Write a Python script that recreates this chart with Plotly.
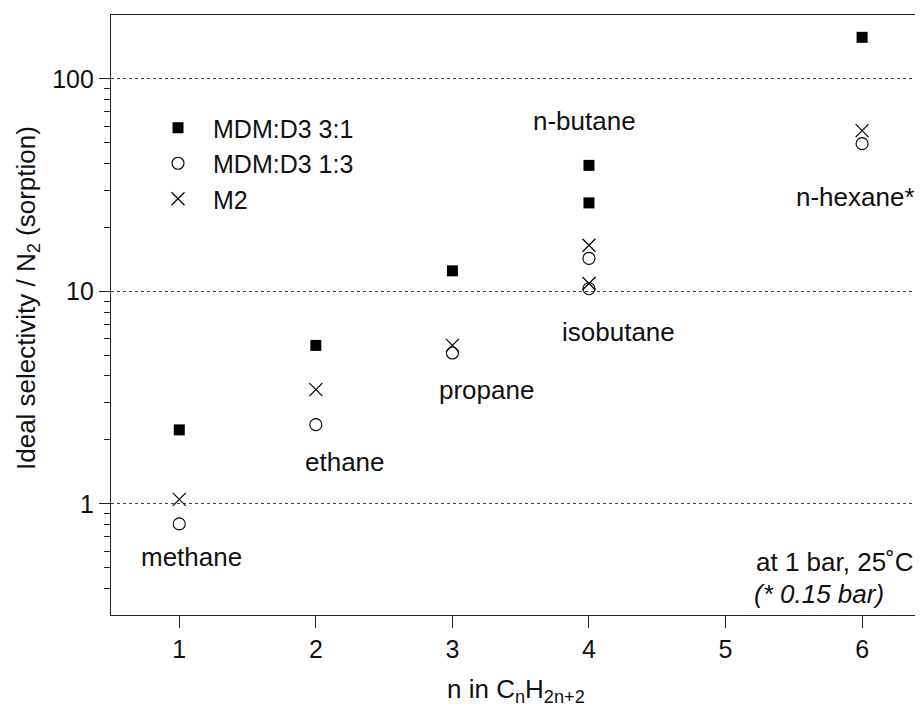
import plotly.graph_objects as go

# ---- data ----
n_mdm31 = [1, 2, 3, 4, 4, 6]
sel_mdm31 = [2.23, 5.57, 12.5, 39.2, 26.1, 157]

n_mdm13 = [1, 2, 3, 4, 4, 6]
sel_mdm13 = [0.805, 2.36, 5.13, 14.3, 10.3, 49.6]

n_m2 = [1, 2, 3, 4, 4, 6]
sel_m2 = [1.05, 3.45, 5.57, 16.5, 10.9, 57.1]

x_ticks = [1, 2, 3, 4, 5, 6]
y_ticks = [1, 10, 100]
y_ticklabels = ["1", "10", "100"]
y_minor = [0.4, 0.5, 0.6, 0.7, 0.8, 0.9, 2, 3, 4, 5, 6, 7, 8, 9,
           20, 30, 40, 50, 60, 70, 80, 90]

gas_labels = ["methane", "ethane", "propane", "isobutane", "n-butane", "n-hexane*"]

FONT = "'Liberation Sans', Arial, sans-serif"
INK = "#111111"

# page has an 8px body margin; compensate so the plot lands where the reference has it
OFF = 8
W, H = 923 - OFF, 714 - OFF
L, R, T, B = 111 - OFF, 0, 15 - OFF, 99
PW, PH = W - L - R, H - T - B
PLOT_LEFT_PAGE = OFF + L
PLOT_BOTTOM_PAGE = OFF + H - B


def px(xpage):
    return (xpage - PLOT_LEFT_PAGE) / PW


def py(ypage):
    return (PLOT_BOTTOM_PAGE - ypage) / PH


fig = go.Figure()
fig.add_trace(go.Scatter(
    x=n_mdm31, y=sel_mdm31, mode="markers", name="MDM:D3 3:1",
    marker=dict(symbol="square", size=11, color="black", line=dict(width=0)),
))
fig.add_trace(go.Scatter(
    x=n_mdm13, y=sel_mdm13, mode="markers", name="MDM:D3 1:3",
    marker=dict(symbol="circle-open", size=12, color="black", line=dict(width=1.1, color="black")),
))
fig.add_trace(go.Scatter(
    x=n_m2, y=sel_m2, mode="markers", name="M2",
    marker=dict(symbol="x-thin-open", size=13, color="black", line=dict(width=1.2, color="black")),
))

label_pos = [(191, 557), (345, 462), (486, 390), (618, 332), (584, 121), (855, 197)]
for txt, (xp, yp) in zip(gas_labels, label_pos):
    fig.add_annotation(x=px(xp), y=py(yp), xref="paper", yref="paper", text=txt,
                       showarrow=False, xanchor="center", yanchor="middle",
                       font=dict(family=FONT, size=26, color=INK))

fig.add_annotation(x=px(916), y=py(562), xref="paper", yref="paper",
                   text="at 1 bar, 25˚C", showarrow=False, xanchor="right", yanchor="middle",
                   font=dict(family=FONT, size=26, color=INK))
fig.add_annotation(x=px(752), y=py(594), xref="paper", yref="paper",
                   text="<i>(* 0.15 bar)</i>", showarrow=False, xanchor="left", yanchor="middle",
                   font=dict(family=FONT, size=26, color=INK))

# axis titles
fig.add_annotation(x=px(516), y=py(690), xref="paper", yref="paper",
                   text="n in C<sub>n</sub>H<sub>2n+2</sub>", showarrow=False,
                   xanchor="center", yanchor="middle",
                   font=dict(family=FONT, size=26, color=INK))
fig.add_annotation(x=px(27), y=py(298), xref="paper", yref="paper",
                   text="Ideal selectivity / N<sub>2</sub> (sorption)", showarrow=False,
                   textangle=-90, xanchor="center", yanchor="middle",
                   font=dict(family=FONT, size=26, color=INK))

fig.update_layout(
    width=W, height=H,
    margin=dict(l=L, r=R, t=T, b=B, pad=0),
    paper_bgcolor="white", plot_bgcolor="white",
    font=dict(family=FONT, size=25, color=INK),
    showlegend=True,
    legend=dict(x=px(143), y=py(105), xanchor="left", yanchor="top",
                bgcolor="rgba(0,0,0,0)", borderwidth=0,
                font=dict(family=FONT, size=25, color=INK),
                itemwidth=60, tracegroupgap=0),
)

fig.update_xaxes(
    range=[0.5, 6.446], tickmode="array", tickvals=x_ticks,
    ticks="outside", ticklen=12, tickwidth=1.2, tickcolor="#222",
    showline=True, linecolor="#222", linewidth=1.3, mirror=True,
    showgrid=False, zeroline=False,
    tickfont=dict(family=FONT, size=25, color=INK),
)
fig.update_yaxes(
    type="log", range=[-0.5229, 2.301],
    tickmode="array", tickvals=y_ticks, ticktext=y_ticklabels,
    ticks="outside", ticklen=11, tickwidth=1.2, tickcolor="#222",
    showline=True, linecolor="#222", linewidth=1.3, mirror=False,
    showgrid=True, gridcolor="#444", gridwidth=1, griddash="dot",
    zeroline=False,
    minor=dict(ticks="outside", ticklen=6, tickwidth=1.2, tickcolor="#222",
               tickvals=y_minor, showgrid=False),
    tickfont=dict(family=FONT, size=25, color=INK),
)

fig.write_html("out.html")
